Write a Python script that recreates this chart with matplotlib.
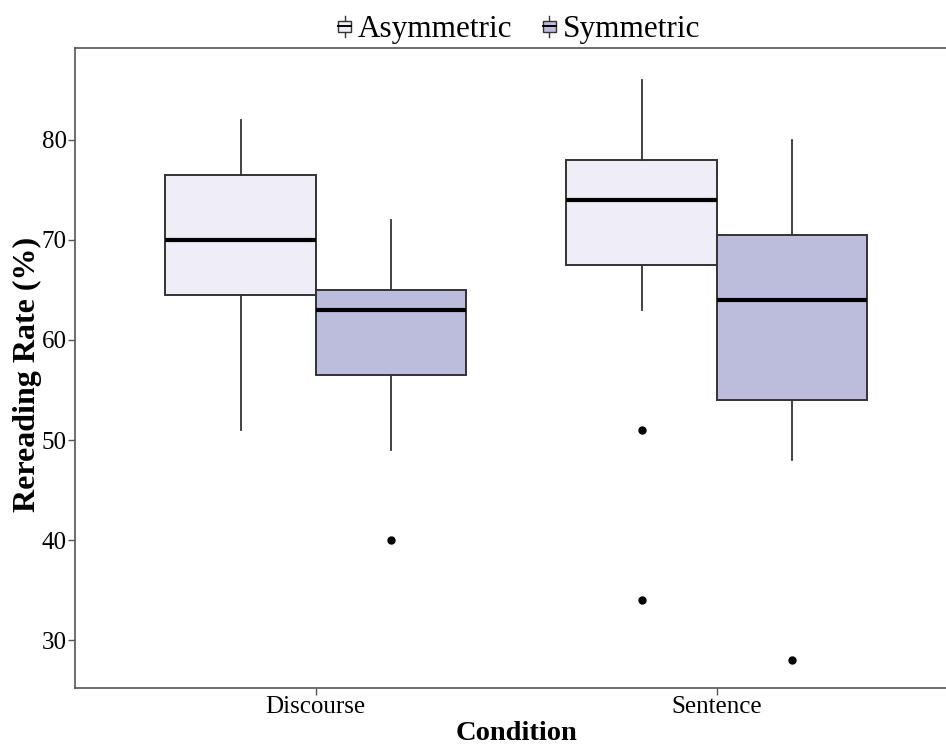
import matplotlib
matplotlib.use("Agg")
import matplotlib.pyplot as plt
from matplotlib.legend_handler import HandlerBase
from matplotlib.patches import Rectangle, Patch
from matplotlib.lines import Line2D

plt.rcParams["font.family"] = ["Liberation Serif", "DejaVu Serif"]

conditions = ["Discourse", "Sentence"]
groups = ["Asymmetric", "Symmetric"]
fills = ["#EFEDF5", "#BCBDDC"]

# five-number summaries, per condition, per group
whislo = {"Asymmetric": [51, 63], "Symmetric": [49, 48]}
q1 = {"Asymmetric": [64.5, 67.5], "Symmetric": [56.5, 54]}
med = {"Asymmetric": [70, 74], "Symmetric": [63, 64]}
q3 = {"Asymmetric": [76.5, 78], "Symmetric": [65, 70.5]}
whishi = {"Asymmetric": [82, 86], "Symmetric": [72, 80]}
fliers = {"Asymmetric": [[], [51, 34]], "Symmetric": [[40], [28]]}

EDGE = "#333333"
BOXW = 0.375


class BoxKey(HandlerBase):
    def create_artists(self, legend, orig_handle, xdescent, ydescent,
                       width, height, fontsize, trans):
        fc = orig_handle.get_facecolor()
        cx = -xdescent + width / 2
        bw = width * 0.75
        bh = height * 0.55
        by = -ydescent + (height - bh) / 2
        top = -ydescent + height * 1.05
        bot = -ydescent - height * 0.05
        art = [
            Line2D([cx, cx], [bot, top], color=EDGE, lw=1.0, transform=trans),
            Rectangle((cx - bw / 2, by), bw, bh, facecolor=fc, edgecolor=EDGE,
                      lw=1.0, transform=trans),
            Line2D([cx - bw / 2, cx + bw / 2], [by + bh / 2, by + bh / 2],
                   color="black", lw=1.4, transform=trans),
        ]
        return art


fig = plt.figure(figsize=(9.46, 7.46), dpi=100)
ax = fig.add_axes([0.0793, 0.0777, 0.933, 0.858])

for gi, g in enumerate(groups):
    stats = []
    for ci in range(len(conditions)):
        stats.append(dict(med=med[g][ci], q1=q1[g][ci], q3=q3[g][ci],
                          whislo=whislo[g][ci], whishi=whishi[g][ci],
                          fliers=fliers[g][ci]))
    pos = [ci + 1 + (gi - 0.5) * BOXW for ci in range(len(conditions))]
    ax.bxp(stats, positions=pos, widths=BOXW, patch_artist=True,
           showcaps=False, manage_ticks=False,
           boxprops=dict(facecolor=fills[gi], edgecolor=EDGE, lw=1.4),
           whiskerprops=dict(color=EDGE, lw=1.3),
           medianprops=dict(color="black", lw=3),
           flierprops=dict(marker="o", markerfacecolor="black",
                           markeredgecolor="black", markersize=5))

ax.set_xlim(0.4, 2.6)
ax.set_ylim(25.2, 89.2)
ax.set_xticks([1, 2])
ax.set_xticklabels(conditions)
ax.set_yticks([30, 40, 50, 60, 70, 80])
ax.tick_params(axis="both", length=5, width=1, color="#555555",
               labelsize=18, pad=1.0, labelcolor="black")
for s in ax.spines.values():
    s.set_color("#555555")
    s.set_linewidth(1.2)

ax.set_xlabel("Condition", fontsize=20.5, fontweight="bold", labelpad=2)
ax.set_ylabel("Rereading Rate (%)", fontsize=23, fontweight="bold")
ax.yaxis.set_label_coords(-0.037, 0.49)

handles = [Patch(facecolor=f, edgecolor=EDGE) for f in fills]
fig.legend(handles, groups, handler_map={Patch: BoxKey()},
           loc="center", bbox_to_anchor=(518 / 946, 1 - 30 / 746),
           ncol=2, frameon=False, fontsize=22.5, handlelength=0.55,
           handleheight=0.6, handletextpad=0.15, columnspacing=0.9,
           borderpad=0)

fig.savefig("out.png", dpi=100)
